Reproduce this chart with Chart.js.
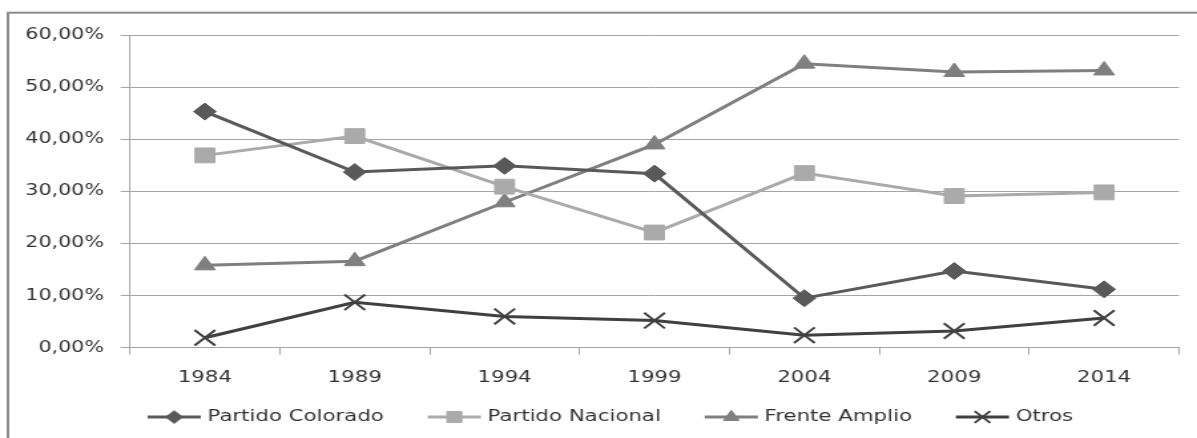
<!DOCTYPE html>
<html>
<head>
<meta charset="utf-8">
<script src="https://cdn.jsdelivr.net/npm/chart.js@4/dist/chart.umd.min.js"></script>
<style>
  html, body { margin: 0; padding: 0; background: #fff; overflow: hidden; }
  /* the reference is stretched sideways, so draw narrow and stretch */
  #wrap { position: absolute; left: 0; top: 0; width: 900px; height: 438px;
          transform: scaleX(1.33); transform-origin: 0 0; }
</style>
</head>
<body>
<div id="wrap"><canvas id="votesChart"></canvas></div>
<script>
// election years
const years = ['1984', '1989', '1994', '1999', '2004', '2009', '2014'];

// vote share per party (%)
const colorado = [45.3, 33.7, 34.9, 33.4, 9.5, 14.7, 11.2];
const nacional = [36.9, 40.6, 30.9, 22.1, 33.5, 29.1, 29.8];
const frente = [15.8, 16.6, 27.9, 39.0, 54.5, 52.9, 53.2];
const otros = [1.9, 8.7, 6.0, 5.2, 2.4, 3.2, 5.7];

const yTickLabels = ['0,00%', '10,00%', '20,00%', '30,00%', '40,00%', '50,00%', '60,00%'];

const textColor = '#333333';
const gridColor = '#a5a5a5';

// outer frame round the chart
const framePlugin = {
   id: 'frame',
   beforeDraw(chart) {
      const ctx = chart.ctx;
      ctx.save();
      ctx.strokeStyle = '#8c8c8c';
      ctx.lineWidth = 2;
      ctx.strokeRect(6, 12.7, 960, 600);
      ctx.restore();
   }
};

// legend with line + marker, like the spreadsheet one
const legendPlugin = {
   id: 'lineLegend',
   afterDraw(chart) {
      const ctx = chart.ctx;
      const y = 417;
      let x = 111;
      ctx.save();
      ctx.font = '16px "DejaVu Sans"';
      ctx.textBaseline = 'middle';
      chart.data.datasets.forEach(ds => {
         ctx.strokeStyle = ds.borderColor;
         ctx.lineWidth = 3;
         ctx.beginPath();
         ctx.moveTo(x, y);
         ctx.lineTo(x + 40, y);
         ctx.stroke();
         if (Chart.helpers && Chart.helpers.drawPoint) {
            ctx.fillStyle = ds.pointBackgroundColor;
            ctx.strokeStyle = ds.borderColor;
            ctx.lineWidth = ds.pointBorderWidth;
            Chart.helpers.drawPoint(ctx, {
               pointStyle: ds.pointStyle,
               radius: ds.pointRadius * 0.75,
               borderWidth: ds.pointBorderWidth,
               rotation: 0
            }, x + 20, y);
         }
         ctx.fillStyle = textColor;
         ctx.fillText(ds.label, x + 45, y);
         x += 45 + ctx.measureText(ds.label).width + 33;
      });
      ctx.restore();
   }
};

function series(label, data, color, style, radius, pbw) {
   return {
      label: label,
      data: data,
      borderColor: color,
      backgroundColor: color,
      borderWidth: 3,
      pointStyle: style,
      pointRadius: radius,
      pointBackgroundColor: color,
      pointBorderColor: color,
      pointBorderWidth: pbw,
      tension: 0
   };
}

const ctx = document.getElementById('votesChart').getContext('2d');
const votesChart = new Chart(ctx, {
   type: 'line',
   data: {
      labels: years,
      datasets: [
         series('Partido Colorado', colorado, '#595959', 'rectRot', 8.5, 1),
         series('Partido Nacional', nacional, '#aaaaaa', 'rect', 10.5, 1),
         series('Frente Amplio', frente, '#7f7f7f', 'triangle', 9, 1),
         series('Otros', otros, '#404040', 'crossRot', 11, 2)
      ]
   },
   options: {
      responsive: true,
      maintainAspectRatio: false,
      animation: false,
      events: [],
      layout: { padding: { left: 0, right: 13.5, top: 35, bottom: 0 } },
      scales: {
         x: {
            offset: true,
            grid: { offset: true, drawOnChartArea: false, drawTicks: true, tickLength: 7, color: gridColor },
            border: { color: gridColor },
            ticks: {
               color: textColor,
               font: { family: 'DejaVu Sans', size: 16 },
               padding: 14,
               maxRotation: 0
            },
            afterFit: s => { s.height = 90.3; }
         },
         y: {
            min: 0,
            max: 60,
            grid: { color: gridColor, tickLength: 7 },
            border: { color: gridColor },
            ticks: {
               stepSize: 10,
               color: textColor,
               font: { family: 'DejaVu Sans', size: 15.5 },
               padding: 12.5,
               callback: (v, i) => yTickLabels[i]
            },
            afterFit: s => { s.width = 97.7; }
         }
      },
      plugins: {
         legend: { display: false },
         tooltip: { enabled: false }
      }
   },
   plugins: [framePlugin, legendPlugin]
});
</script>
</body>
</html>
